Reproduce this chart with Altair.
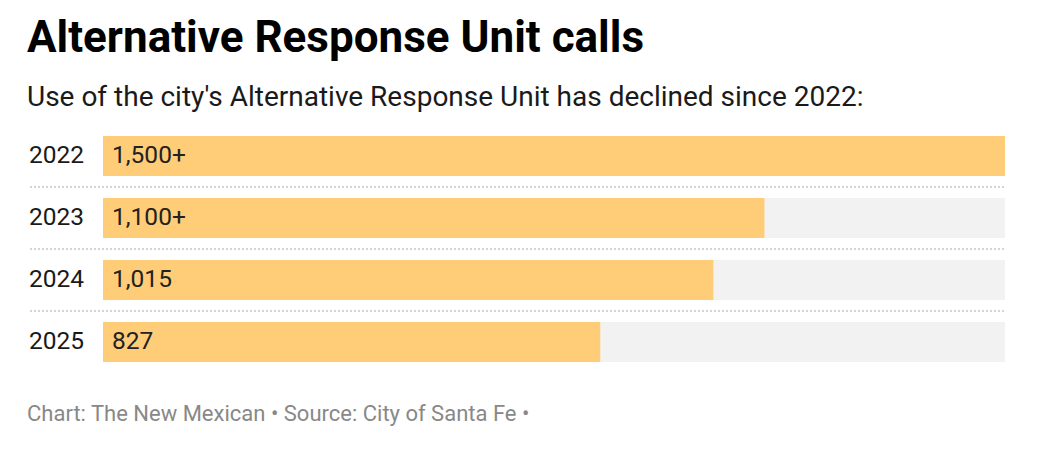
import altair as alt
import pandas as pd

years = ["2022", "2023", "2024", "2025"]
calls = [1500, 1100, 1015, 827]
labels = ["1,500+", "1,100+", "1,015", "827"]
domain_max = 1500
title_text = "Alternative Response Unit calls"
subtitle_text = "Use of the city's Alternative Response Unit has declined since 2022:"
footer_text = "Chart: The New Mexican \u2022 Source: City of Santa Fe \u2022"

df = pd.DataFrame({"year": years, "calls": calls, "label": labels,
                   "full": [domain_max] * len(years)})
sep_df = df[df["year"] != years[-1]]
head_df = pd.DataFrame({"t": [title_text]})
sub_df = pd.DataFrame({"t": [subtitle_text]})
foot_df = pd.DataFrame({"t": [footer_text]})

FONT = "Roboto"
y = alt.Y("year:N", sort=years, axis=None,
          scale=alt.Scale(paddingInner=22 / 62, paddingOuter=11 / 62))
x_scale = alt.Scale(domain=[0, domain_max])

base = alt.Chart(df)
bg = base.mark_bar(color="#f2f2f2").encode(
    x=alt.X("full:Q", scale=x_scale, axis=None), y=y)
bars = base.mark_bar(color="#ffcc78").encode(
    x=alt.X("calls:Q", scale=x_scale, axis=None), y=y)
vals = base.mark_text(align="left", baseline="middle", font=FONT, fontSize=24.5,
                      color="#222222").encode(x=alt.value(9), y=y, text="label:N")
yrs = base.mark_text(align="left", baseline="middle", font=FONT, fontSize=24.5,
                     color="#1a1a1a").encode(x=alt.value(-74), y=y, text="year:N")
rules = alt.Chart(sep_df).mark_rule(strokeDash=[2, 2], color="#d4d4d4",
                                    strokeWidth=2, yOffset=31).encode(
    y=y, x=alt.value(-73), x2=alt.value(902))
head = alt.Chart(head_df).mark_text(align="left", baseline="alphabetic", font=FONT,
                                    fontSize=44, fontWeight="bold",
                                    color="#000000").encode(
    x=alt.value(-76), y=alt.value(-73.5), text="t:N")
sub = alt.Chart(sub_df).mark_text(align="left", baseline="alphabetic", font=FONT,
                                  fontSize=28, color="#1a1a1a").encode(
    x=alt.value(-76), y=alt.value(-19), text="t:N")
foot = alt.Chart(foot_df).mark_text(align="left", baseline="alphabetic", font=FONT,
                                    fontSize=22, color="#888888").encode(
    x=alt.value(-76), y=alt.value(296), text="t:N")

chart = alt.layer(bg, bars, rules, vals, yrs, head, sub, foot).properties(
    width=902, height=248,
    autosize=alt.AutoSizeParams(type="none"),
    padding={"left": 95, "top": 117, "right": 36, "bottom": 74},
).configure(background="white", view=alt.ViewConfig(stroke="transparent"))

chart.save("out.html", embed_options={"renderer": "svg", "actions": False})
